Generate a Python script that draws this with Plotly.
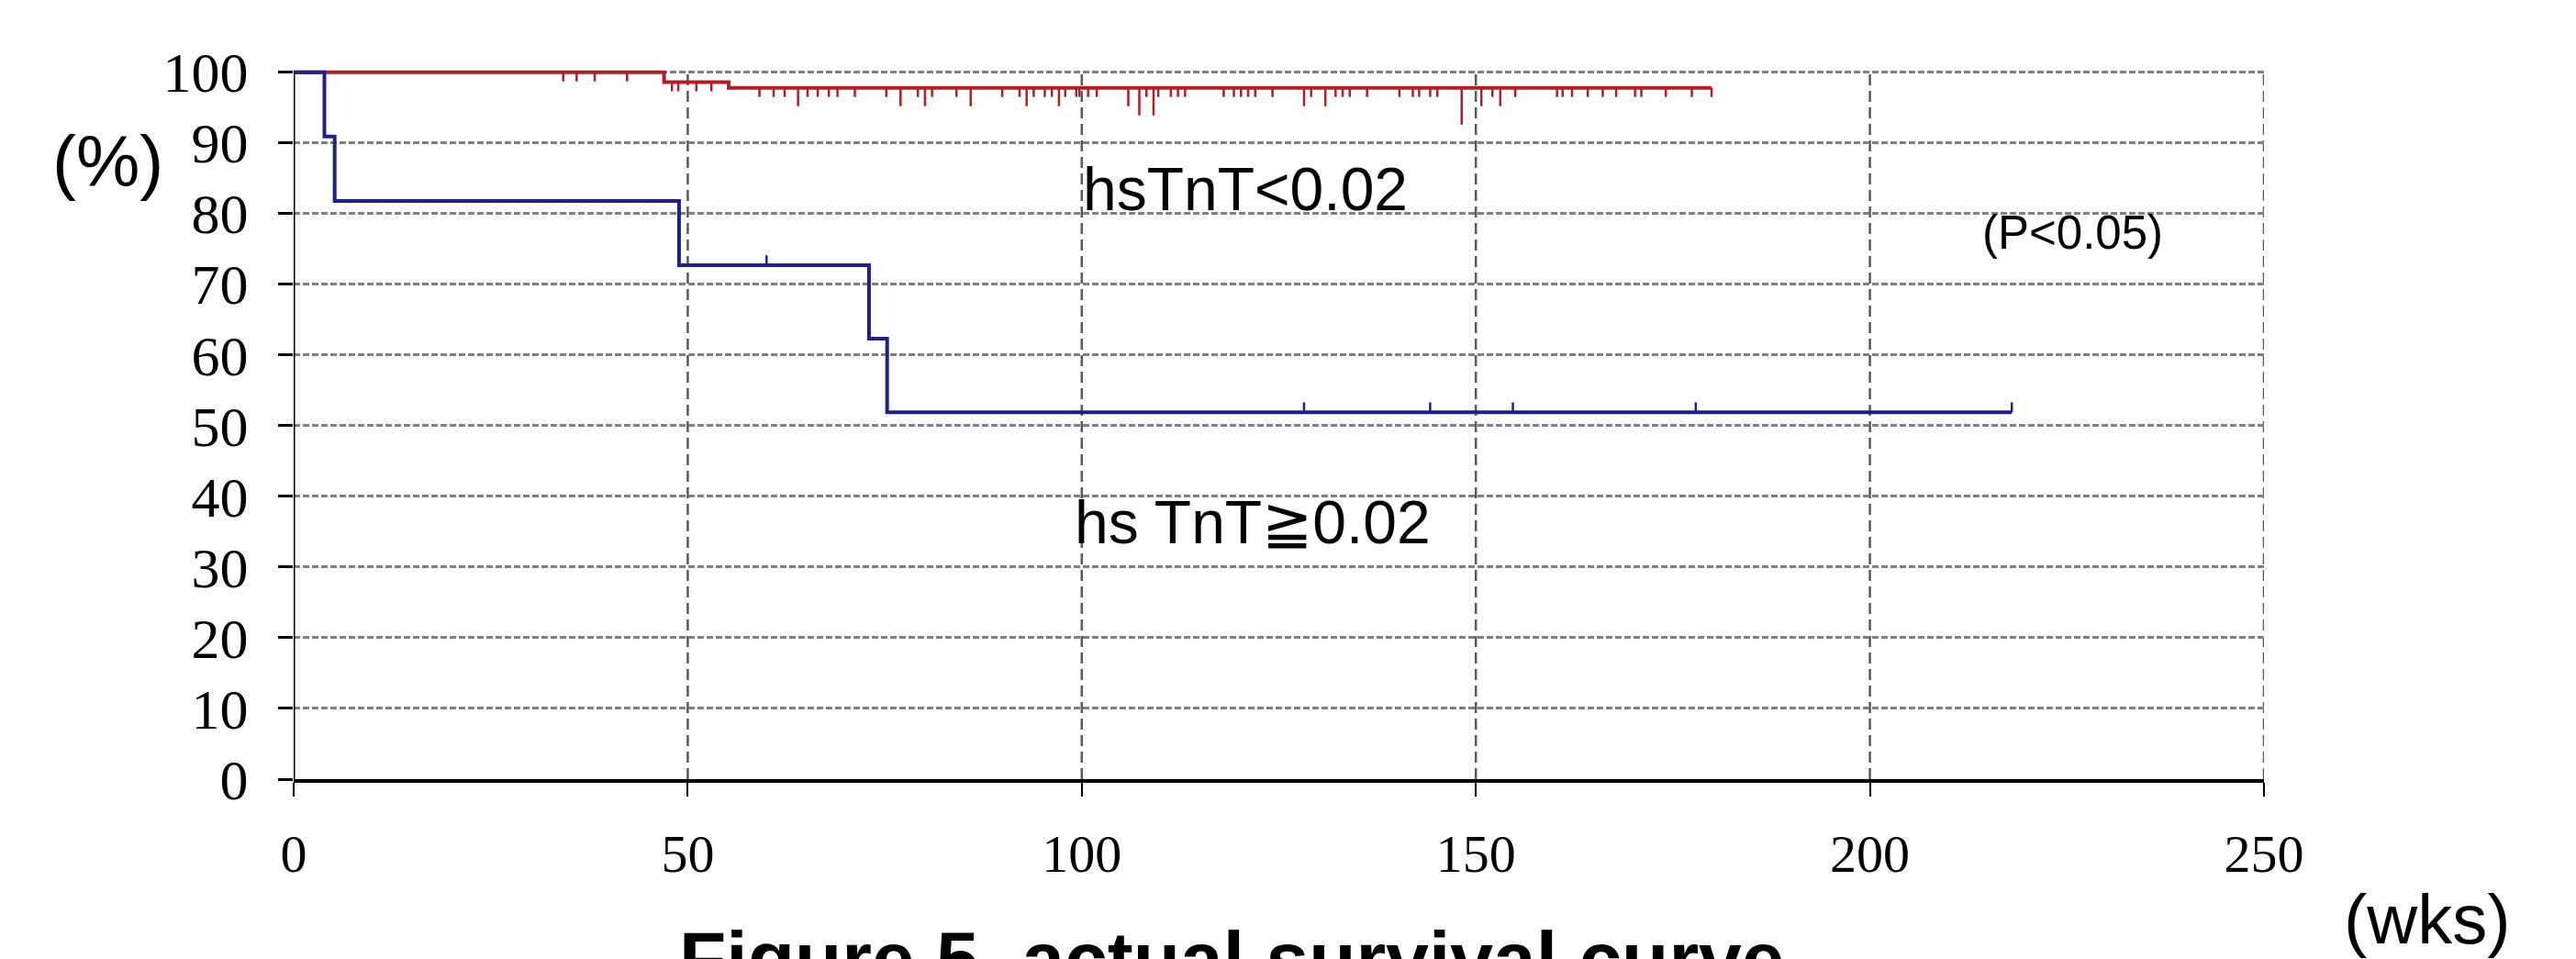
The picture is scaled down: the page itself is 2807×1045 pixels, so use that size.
import numpy as np
import plotly.graph_objects as go

# ---------------- data ----------------
week_ticks = [0, 50, 100, 150, 200, 250]
pct_ticks = [0, 10, 20, 30, 40, 50, 60, 70, 80, 90, 100]

# hs TnT >= 0.02 group (Kaplan-Meier steps)
high_times = [0, 3.9, 5.2, 48.9, 73.0, 75.3, 218.0]
high_surv = [100, 90.9, 81.8, 72.7, 62.3, 51.9, 51.9]
high_censor = [60.0, 128.2, 144.2, 154.7, 177.9, 218.0]

# hsTnT < 0.02 group
low_times = [0, 47.0, 55.2, 179.9]
low_surv = [100, 98.6, 97.8, 97.8]
low_censor = [34.2, 35.9, 38.2, 42.3, 48.0, 48.8, 51.1, 53.0,
              59.1, 60.9, 62.3, 64.0, 65.2, 66.5, 67.9, 69.0, 71.2, 75.2,
              77.0, 79.2, 80.1, 81.0, 84.1, 85.9, 89.9, 92.1, 93.0, 93.9,
              95.3, 96.2, 97.1, 97.9, 99.3, 99.7, 100.8, 101.9, 105.9, 107.3,
              108.2, 109.1, 109.7, 111.3, 112.2, 113.1, 118.0, 119.3, 120.2,
              121.1, 122.0, 124.2, 128.2, 129.1, 130.9, 132.2, 133.1, 134.0,
              136.2, 140.3, 142.0, 142.8, 144.2, 145.1, 148.2, 150.7, 152.1,
              153.1, 155.0, 160.3, 161.0, 162.2, 164.2, 166.1, 167.8, 170.2,
              171.0, 174.1, 177.4, 179.9]
low_censor_n = [1, 1, 1, 1, 1, 1, 1, 1,
                1, 1, 1, 2, 1, 1, 1, 1, 1, 1,
                2, 1, 2, 1, 1, 2, 1, 1, 2, 1,
                1, 1, 2, 1, 1, 1, 1, 1, 2, 3,
                1, 3, 1, 1, 1, 1, 1, 1, 1,
                1, 1, 1, 2, 1, 2, 1, 1, 1,
                1, 1, 1, 1, 1, 1, 4, 2, 1,
                2, 1, 1, 1, 1, 1, 1, 1, 1,
                1, 1, 1, 1]

RED = "#b01e26"
BLUE = "#20208a"


def level_at(times, surv, t):
    idx = np.searchsorted(np.asarray(times), t, side="right") - 1
    return surv[int(idx)]


def censor_segments(times, surv, ctimes, counts, unit, direction):
    xs, ys = [], []
    for t, n in zip(ctimes, counts):
        y = level_at(times, surv, t)
        xs += [t, t, None]
        ys += [y, y + direction * unit * n, None]
    return xs, ys


fig = go.Figure()

# red curve
fig.add_trace(go.Scatter(x=low_times, y=low_surv, mode="lines", line_shape="hv",
                         line=dict(color=RED, width=4), showlegend=False, hoverinfo="skip"))
cx, cy = censor_segments(low_times, low_surv, low_censor, low_censor_n, 1.3, -1)
fig.add_trace(go.Scatter(x=cx, y=cy, mode="lines", line=dict(color=RED, width=2.5),
                         showlegend=False, hoverinfo="skip"))

# blue curve
fig.add_trace(go.Scatter(x=high_times, y=high_surv, mode="lines", line_shape="hv",
                         line=dict(color=BLUE, width=4), showlegend=False, hoverinfo="skip"))
bx, by = censor_segments(high_times, high_surv, high_censor, [1] * len(high_censor), 1.4, 1)
fig.add_trace(go.Scatter(x=bx, y=by, mode="lines", line=dict(color=BLUE, width=2.5),
                         showlegend=False, hoverinfo="skip"))

# vertical dashed grid lines (from 0 to 100 only)
shapes = []
for w in week_ticks[1:]:
    shapes.append(dict(type="line", xref="x", yref="y", x0=w, x1=w, y0=0, y1=100,
                       line=dict(color="#5a5a5a", width=2.5, dash="12px,6px"), layer="below"))
# y axis line
shapes.append(dict(type="line", xref="x", yref="y", x0=0, x1=0, y0=0, y1=100,
                   line=dict(color="black", width=3), layer="above"))

sans = "Liberation Sans, Arial, sans-serif"
serif = "Liberation Serif, Times New Roman, serif"

annotations = [
    dict(text="(%)", x=-0.0941, y=0.865, xref="paper", yref="paper",
         font=dict(family=sans, size=78, color="black")),
    dict(text="hsTnT<0.02", x=120.7, y=83.5, xref="x", yref="y",
         font=dict(family=sans, size=66, color="black")),
    dict(text="hs TnT≧0.02", x=121.7, y=36.4, xref="x", yref="y",
         font=dict(family=sans, size=66, color="black")),
    dict(text="(P<0.05)", x=225.7, y=77.3, xref="x", yref="y",
         font=dict(family=sans, size=51, color="black")),
    dict(text="(wks)", x=1.0829, y=-0.1954, xref="paper", yref="paper",
         font=dict(family=sans, size=76, color="black")),
    dict(text="<b>Figure 5. actual survival curve</b>", x=0.4762, y=-0.252,
         xref="paper", yref="paper",
         font=dict(family=sans, size=84, color="black")),
]
for a in annotations:
    a.update(showarrow=False, xanchor="center", yanchor="middle")

fig.update_layout(
    width=2807, height=1045,
    margin=dict(l=320, r=340, t=71, b=196, pad=0),
    paper_bgcolor="white", plot_bgcolor="white",
    shapes=shapes, annotations=annotations,
    xaxis=dict(range=[0, 250], tickvals=week_ticks, ticktext=[str(v) for v in week_ticks],
               showline=True, linecolor="black", linewidth=4,
               ticks="outside", ticklen=15, tickwidth=2, tickcolor="black",
               showgrid=False, zeroline=False,
               tickfont=dict(family=serif, size=58, color="black"),
               ticklabelstandoff=12),
    yaxis=dict(range=[0, 101], tickvals=pct_ticks, ticktext=[str(v) for v in pct_ticks],
               showline=False, ticks="outside", ticklen=16, tickwidth=3, tickcolor="black",
               showgrid=True, gridcolor="#808080", gridwidth=3, griddash="7px,3px",
               zeroline=False,
               tickfont=dict(family=serif, size=62, color="black"),
               ticklabelstandoff=20),
)

fig.write_html("out.html")
